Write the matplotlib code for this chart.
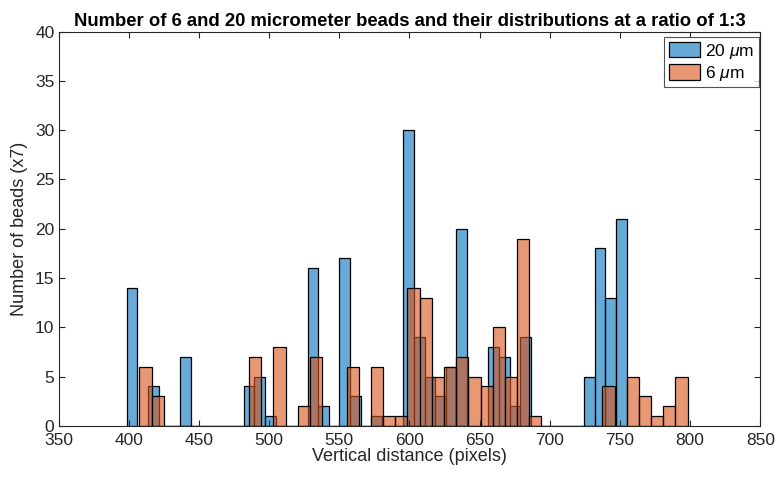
import numpy as np
import matplotlib
matplotlib.use('Agg')
import matplotlib.pyplot as plt

# 20 um beads: histogram counts, uniform bins
blue_start = 398.5
blue_width = 7.58
blue_counts = [14, 0, 4, 0, 0, 7, 0, 0, 0, 0, 0, 4, 5, 1, 0, 0, 0, 16, 2, 0,
               17, 3, 0, 1, 0, 0, 30, 9, 5, 3, 6, 20, 0, 0, 8, 7, 2, 9, 0, 0,
               0, 0, 0, 5, 18, 13, 21]

# 6 um beads
orange_start = 407.6
orange_width = 8.68
orange_counts = [6, 3, 0, 0, 0, 0, 0, 0, 0, 7, 0, 8, 0, 2, 7, 0, 0, 6, 0, 6,
                 1, 1, 14, 13, 5, 6, 7, 5, 4, 10, 5, 19, 1, 0, 0, 0, 0, 0, 4, 0,
                 5, 3, 1, 2, 5]

labels = [r'20 $\mu$m', r'6 $\mu$m']
title = 'Number of 6 and 20 micrometer beads and their distributions at a ratio of 1:3'

plt.rcParams['font.family'] = ['Liberation Sans', 'DejaVu Sans']
plt.rcParams['mathtext.fontset'] = 'custom'
plt.rcParams['mathtext.it'] = 'Liberation Sans:italic'
plt.rcParams['mathtext.rm'] = 'Liberation Sans'

grey = (0.15, 0.15, 0.15)

fig = plt.figure(figsize=(7.77, 4.79), dpi=100)
ax = fig.add_axes([0.0755, 0.111, 0.903, 0.823])

bx = blue_start + blue_width * np.arange(len(blue_counts))
ox = orange_start + orange_width * np.arange(len(orange_counts))

ax.bar(bx, blue_counts, width=blue_width, align='edge',
       color=(0, 0.447, 0.741, 0.6), edgecolor='black', linewidth=0.9,
       label=labels[0])
ax.bar(ox, orange_counts, width=orange_width, align='edge',
       color=(0.85, 0.325, 0.098, 0.6), edgecolor='black', linewidth=0.9,
       label=labels[1])

ax.set_xlim(350, 850)
ax.set_ylim(0, 40)
ax.set_xticks(np.arange(350, 851, 50))
ax.set_yticks(np.arange(0, 41, 5))
ax.tick_params(direction='in', top=True, right=True, length=4,
               labelsize=12.5, colors=grey, labelcolor=grey)
ax.tick_params(axis='x', pad=5)
ax.tick_params(axis='y', pad=3)
for s in ax.spines.values():
    s.set_color(grey)
    s.set_linewidth(0.8)

ax.set_xlabel('Vertical distance (pixels)', fontsize=13, color=grey, labelpad=0)
ax.set_ylabel('Number of beads (x7)', fontsize=13, color=grey, labelpad=5)
ax.set_title(title, fontsize=13.3, fontweight='bold', pad=4)

leg = ax.legend(loc='upper right', fontsize=12.5, frameon=True, fancybox=False,
                edgecolor=grey, handlelength=1.8, handleheight=1.0,
                borderaxespad=0.1, handletextpad=0.3, borderpad=0.25,
                labelspacing=0.2, bbox_to_anchor=(1.0, 0.99))
leg.get_frame().set_linewidth(0.8)

fig.savefig('out.png', dpi=100)
